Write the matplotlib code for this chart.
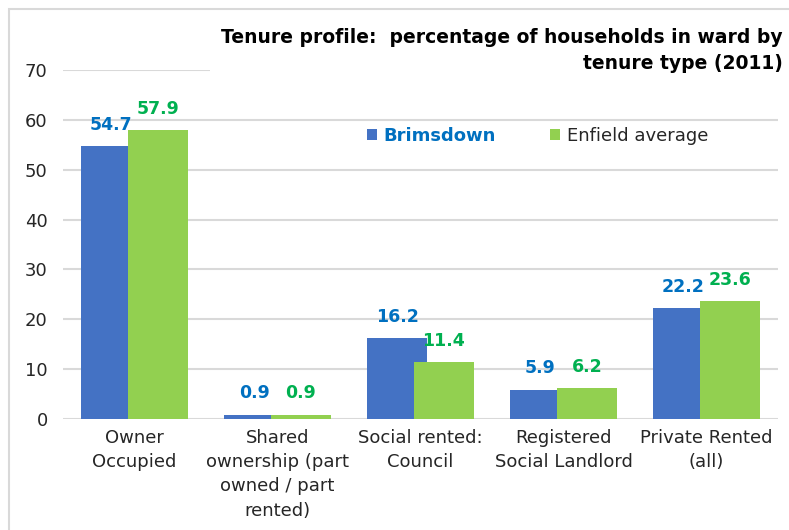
import matplotlib.pyplot as plt
import numpy as np
from matplotlib.patches import Rectangle

plt.rcParams['font.family'] = ['DejaVu Sans']

# data
categories = ['Owner\nOccupied', 'Shared\nownership (part\nowned / part\nrented)',
              'Social rented:\nCouncil', 'Registered\nSocial Landlord', 'Private Rented\n(all)']
brimsdown = [54.7, 0.9, 16.2, 5.9, 22.2]
enfield = [57.9, 0.9, 11.4, 6.2, 23.6]
series_names = ['Brimsdown', 'Enfield average']
yticks = [0, 10, 20, 30, 40, 50, 60, 70]

blue, green = '#4472C4', '#92D050'
blue_txt, green_txt = '#0070C0', '#00B050'
grid_col = '#D9D9D9'
text_col = '#262626'

fig = plt.figure(figsize=(7.89, 5.30), dpi=100)
ax = fig.add_axes([0.0798, 0.2094, 0.9062, 0.6585])

x = np.arange(len(categories))
w = 0.42
off = 0.164
ax.bar(x - off, brimsdown, w, color=blue, zorder=2, label=series_names[0])
ax.bar(x + off, enfield, w, color=green, zorder=3, label=series_names[1])

# data labels
for xi, v in zip(x, brimsdown):
    ax.annotate(f'{v}', (xi - off, v), xytext=(0, 9), textcoords='offset points',
                ha='center', va='bottom', color=blue_txt, fontsize=12.5, fontweight='bold', zorder=4)
for xi, v in zip(x, enfield):
    ax.annotate(f'{v}', (xi + off, v), xytext=(0, 9), textcoords='offset points',
                ha='center', va='bottom', color=green_txt, fontsize=12.5, fontweight='bold', zorder=4)

ax.set_xlim(-0.5, len(categories) - 0.5)
ax.set_ylim(0, 70)
ax.set_yticks(yticks)
ax.set_xticks(x)
ax.set_xticklabels(categories, fontsize=13, color=text_col, linespacing=1.45)
ax.tick_params(axis='y', length=0, pad=11, labelsize=13, labelcolor=text_col)
ax.tick_params(axis='x', length=0, pad=7)
ax.yaxis.grid(True, color=grid_col, linewidth=1.5, zorder=0)
ax.set_axisbelow(True)
for s in ax.spines.values():
    s.set_visible(False)

# legend
leg = ax.legend(loc='center', bbox_to_anchor=(0.664, 0.81), ncol=2, frameon=False,
                fontsize=13, handlelength=0.55, handleheight=0.55, handletextpad=0.4,
                columnspacing=3.0)
leg_txt = leg.get_texts()
leg_txt[0].set_color(blue_txt)
leg_txt[0].set_fontweight('bold')
leg_txt[1].set_color(text_col)

# title with white box
fig.text(0.992, 0.948, 'Tenure profile:  percentage of households in ward by\ntenure type (2011)',
         ha='right', va='top', fontsize=13.5, fontweight='bold', color='black',
         linespacing=1.5, zorder=5,
         bbox=dict(facecolor='white', edgecolor='none', pad=8))

# chart border
fig.patches.append(Rectangle((9 / 789, -0.1), 1.2, 1.1 - 9 / 530, transform=fig.transFigure,
                             fill=False, edgecolor='#D9D9D9', linewidth=1.5, zorder=6))

fig.savefig('out.png', dpi=100)
